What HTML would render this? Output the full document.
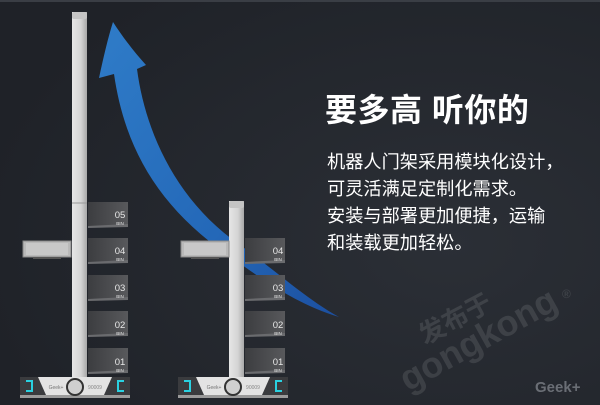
<!DOCTYPE html>
<html><head><meta charset="utf-8"><style>
html,body{margin:0;padding:0;}
body{width:600px;height:405px;overflow:hidden;background:#24282f;}
svg{display:block}
</style></head><body>
<svg width="600" height="405" viewBox="0 0 600 405" xmlns="http://www.w3.org/2000/svg">
<defs>
<radialGradient id="bg" cx="0.75" cy="0.6" r="0.8">
<stop offset="0" stop-color="#2b2f36"/><stop offset="1" stop-color="#1f2228"/>
</radialGradient>
<linearGradient id="arr" x1="0" y1="0" x2="1" y2="1">
<stop offset="0" stop-color="#2f7cc8"/><stop offset="0.6" stop-color="#2468b8"/><stop offset="1" stop-color="#1c4fa0"/>
</linearGradient>
<linearGradient id="pole" x1="0" x2="1">
<stop offset="0" stop-color="#e6e6e6"/><stop offset="0.6" stop-color="#d4d4d4"/><stop offset="1" stop-color="#a8a8a8"/>
</linearGradient>
<linearGradient id="bin" x1="0" x2="1">
<stop offset="0" stop-color="#3c3d40"/><stop offset="1" stop-color="#58595c"/>
</linearGradient>
<g id="bin1">
<rect x="0" y="0" width="40" height="24" fill="url(#bin)"/>
<polygon points="0,24 40,22 40,25 0,26" fill="#6a6b6e"/>
</g>
<g id="tote">
<rect x="0" y="0" width="48" height="16" fill="#b9b9b9" stroke="#888" stroke-width="1"/>
<rect x="3" y="2" width="42" height="12" fill="#c8c8c8"/>
<rect x="10" y="16" width="28" height="2" fill="#555"/>
</g>
<g id="base">
<rect x="0" y="0" width="110" height="18" fill="#e3e3e3"/>
<rect x="0" y="0" width="18" height="18" fill="#3a3b3e"/>
<rect x="92" y="0" width="18" height="18" fill="#3a3b3e"/>
<polygon points="18,0 26,18 18,18" fill="#3a3b3e"/>
<polygon points="92,0 84,18 92,18" fill="#3a3b3e"/>
<path d="M6,4 h6 v10 h-6" fill="none" stroke="#2ad0e0" stroke-width="2"/>
<path d="M104,4 h-6 v10 h6" fill="none" stroke="#2ad0e0" stroke-width="2"/>
<rect x="0" y="18" width="110" height="3" fill="#9a9a9a"/>
<circle cx="55" cy="10" r="8" fill="#cfcfcf" stroke="#333" stroke-width="2"/>
<text x="36" y="12" font-family="Liberation Sans, sans-serif" font-size="5" fill="#777" text-anchor="middle">Geek+</text>
<text x="75" y="12" font-family="Liberation Sans, sans-serif" font-size="5" fill="#888" text-anchor="middle">90009</text>
</g>
</defs>
<rect width="600" height="405" fill="url(#bg)"/>
<rect width="600" height="2" fill="#3a3e45"/>

<!-- arrow -->
<path d="M99,78 C104,55 108,38 113,22 C122,36 134,52 146,65 L137,69 C145,130 175,200 240,245 C275,270 305,298 339,317 C300,305 270,285 235,260 C160,210 125,150 114,74 Z" fill="url(#arr)"/>

<!-- left robot -->
<rect x="72" y="12" width="15" height="368" fill="url(#pole)"/>
<rect x="72" y="12" width="15" height="7" rx="2" fill="#c4c4c4"/>
<line x1="72" y1="203" x2="87" y2="203" stroke="#999" stroke-width="1"/>
<g font-family="Liberation Sans, sans-serif" fill="#e8e8e8" text-anchor="middle">
<use href="#bin1" x="88" y="202"/><text x="120" y="218" font-size="9.5">05</text><text x="120" y="225" font-size="4.5">BIN</text>
<use href="#bin1" x="88" y="238"/><text x="120" y="254" font-size="9.5">04</text><text x="120" y="261" font-size="4.5">BIN</text>
<use href="#bin1" x="88" y="275"/><text x="120" y="291" font-size="9.5">03</text><text x="120" y="298" font-size="4.5">BIN</text>
<use href="#bin1" x="88" y="311"/><text x="120" y="328" font-size="9.5">02</text><text x="120" y="335" font-size="4.5">BIN</text>
<use href="#bin1" x="88" y="348"/><text x="120" y="365" font-size="9.5">01</text><text x="120" y="372" font-size="4.5">BIN</text>
</g>
<use href="#tote" x="23" y="241"/>
<use href="#base" x="20" y="377"/>

<!-- right robot -->
<rect x="229" y="201" width="15" height="179" fill="url(#pole)"/>
<rect x="229" y="201" width="15" height="7" rx="2" fill="#c4c4c4"/>
<g font-family="Liberation Sans, sans-serif" fill="#e8e8e8" text-anchor="middle">
<use href="#bin1" x="245" y="238"/><text x="278" y="254" font-size="9.5">04</text><text x="278" y="261" font-size="4.5">BIN</text>
<use href="#bin1" x="245" y="275"/><text x="278" y="291" font-size="9.5">03</text><text x="278" y="298" font-size="4.5">BIN</text>
<use href="#bin1" x="245" y="311"/><text x="278" y="328" font-size="9.5">02</text><text x="278" y="335" font-size="4.5">BIN</text>
<use href="#bin1" x="245" y="348"/><text x="278" y="365" font-size="9.5">01</text><text x="278" y="372" font-size="4.5">BIN</text>
</g>
<use href="#tote" x="181" y="241"/>
<use href="#base" x="178" y="377"/>

<!-- text -->
<g font-family="Liberation Sans, 'Noto Sans CJK SC', sans-serif" fill="#ffffff">
<text x="325" y="121" font-size="32" font-weight="bold" letter-spacing="0.5">要多高 听你的</text>
<text x="327" y="168" font-size="18.2">机器人门架采用模块化设计，</text>
<text x="327" y="195" font-size="18.2">可灵活满足定制化需求。</text>
<text x="327" y="222" font-size="18.2">安装与部署更加便捷，运输</text>
<text x="327" y="249" font-size="18.2">和装载更加轻松。</text>
</g>
<g font-family="Liberation Sans, 'Noto Sans CJK SC', sans-serif" fill="#ffffff" opacity="0.1" font-weight="bold">
<text x="0" y="0" font-size="26" transform="translate(425,345) rotate(-28)">发布于</text>
<text x="0" y="0" font-size="36" transform="translate(408,392) rotate(-29)">gongkong</text>
<text x="562" y="298" font-size="12">®</text>
</g>
<text x="535" y="392" font-family="Liberation Sans, sans-serif" font-size="15" fill="#6a6e75" font-weight="bold">Geek+</text>
</svg>
</body></html>
